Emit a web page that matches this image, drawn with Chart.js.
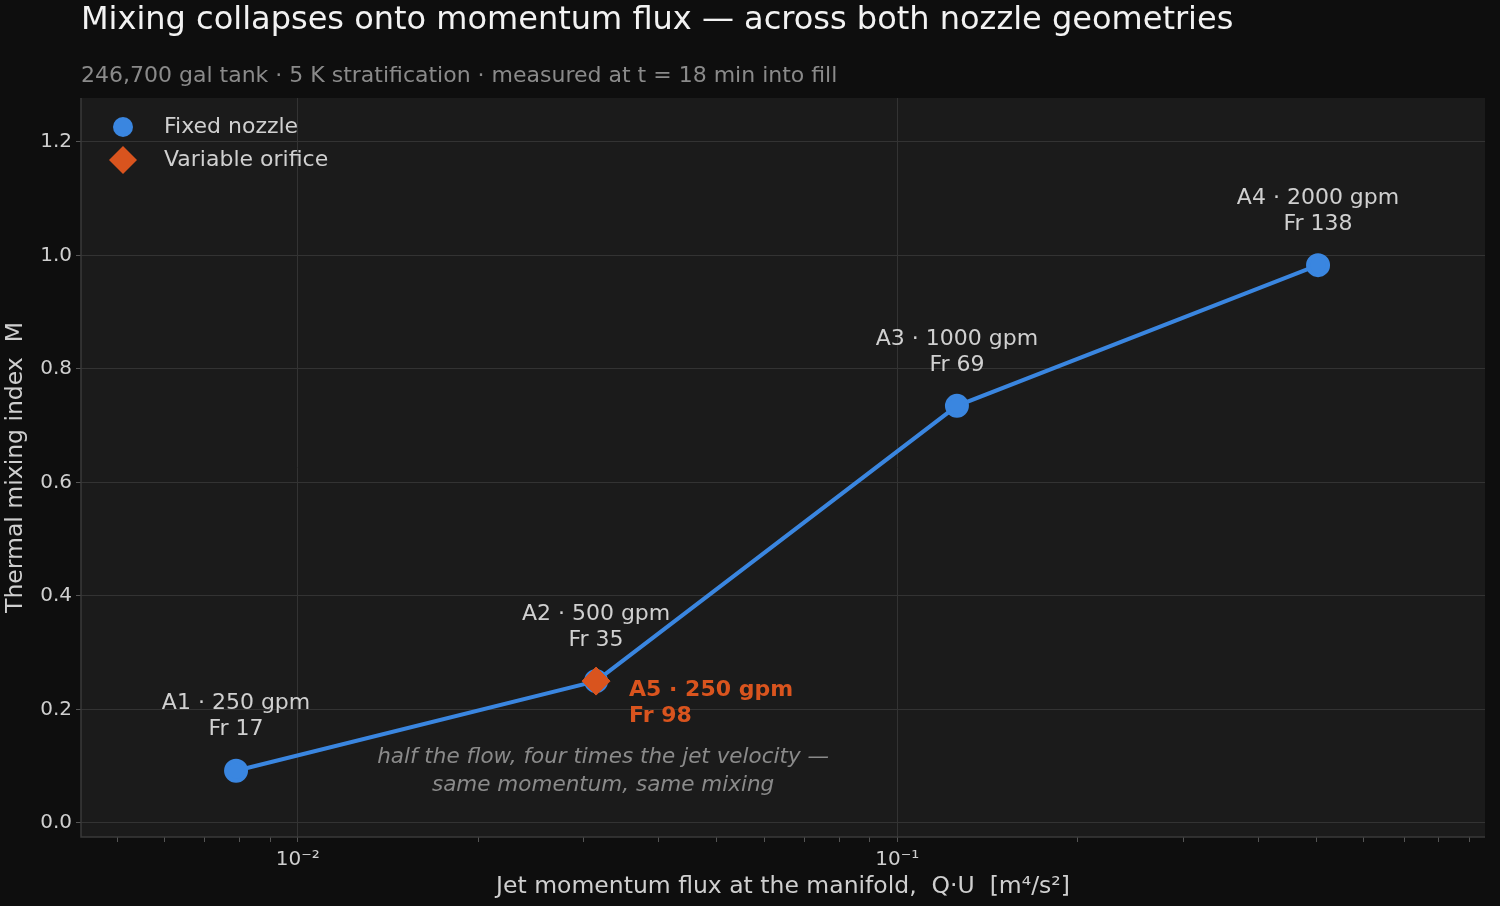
<!DOCTYPE html>
<html><head><meta charset="utf-8">
<script src="https://cdn.jsdelivr.net/npm/chart.js@4"></script>
<style>html,body{margin:0;padding:0;background:#0e0e0e;}#c{display:block;}</style>
</head><body>
<canvas id="c" width="1500" height="906"></canvas>
<script>
const pointNames = ['A1 · 250 gpm','A2 · 500 gpm','A3 · 1000 gpm','A4 · 2000 gpm'];
const froude = ['Fr 17','Fr 35','Fr 69','Fr 138'];
const fixedQU = [0.00789, 0.03144, 0.1257, 0.503];
const fixedM = [0.092, 0.250, 0.735, 0.983];
const varName = ['A5 · 250 gpm'];
const varFr = ['Fr 98'];
const varQU = [0.03144];
const varM = [0.250];
const yTicks = [0,0.2,0.4,0.6,0.8,1.0,1.2];
const FONT = '"DejaVu Sans", sans-serif';
const BLUE = '#3a86e0', ORANGE = '#d9541e';

const deco = {
  id:'deco',
  beforeDraw(ch){
    const c=ch.ctx, a=ch.chartArea;
    c.save();
    c.fillStyle='#0e0e0e'; c.fillRect(0,0,ch.width,ch.height);
    c.fillStyle='#1b1b1b'; c.fillRect(a.left,a.top,a.right-a.left,a.bottom-a.top);
    c.restore();
  },
  afterDatasetsDraw(ch){
    const c=ch.ctx, a=ch.chartArea, xs=ch.scales.x, ys=ch.scales.y;
    c.save();
    c.strokeStyle='#3a3a3a'; c.lineWidth=1.5;
    c.beginPath(); c.moveTo(a.left,a.top); c.lineTo(a.left,a.bottom); c.lineTo(a.right,a.bottom); c.stroke();
    c.textBaseline='middle';
    c.fillStyle='#f2f2f2'; c.font='32px '+FONT; c.textAlign='left';
    c.fillText('Mixing collapses onto momentum flux — across both nozzle geometries',81,21);
    c.fillStyle='#8a8a8a'; c.font='22px '+FONT;
    c.fillText('246,700 gal tank · 5 K stratification · measured at t = 18 min into fill',81,76);
    c.fillStyle='#cfcfcf'; c.font='23.5px '+FONT; c.textAlign='center';
    c.fillText('Jet momentum flux at the manifold,  Q·U  [m⁴/s²]',(a.left+a.right)/2,887);
    c.save(); c.translate(16,(a.top+a.bottom)/2); c.rotate(-Math.PI/2);
    c.fillText('Thermal mixing index  M',0,0); c.restore();
    c.font='22px '+FONT; c.fillStyle='#d0d0d0';
    fixedQU.forEach((q,i)=>{
      const px=xs.getPixelForValue(q), py=ys.getPixelForValue(fixedM[i]);
      c.fillText(pointNames[i],px,py-67);
      c.fillText(froude[i],px,py-41);
    });
    c.font='bold 22px '+FONT; c.fillStyle=ORANGE; c.textAlign='left';
    varQU.forEach((q,i)=>{
      const px=xs.getPixelForValue(q), py=ys.getPixelForValue(varM[i]);
      c.fillText(varName[i],px+33,py+9);
      c.fillText(varFr[i],px+33,py+35);
    });
    c.font='italic 21.5px '+FONT; c.fillStyle='#8a8a8a'; c.textAlign='center';
    const nx=xs.getPixelForValue(0.0323), ny=ys.getPixelForValue(0.116);
    c.fillText('half the flow, four times the jet velocity —',nx,ny);
    c.fillText('same momentum, same mixing',nx,ny+28);
    c.fillStyle=BLUE; c.beginPath(); c.arc(123,127,10,0,Math.PI*2); c.fill();
    c.fillStyle=ORANGE; c.beginPath(); c.moveTo(123,146); c.lineTo(137,160); c.lineTo(123,174); c.lineTo(109,160); c.closePath(); c.fill();
    c.fillStyle='#d0d0d0'; c.font='22px '+FONT; c.textAlign='left';
    c.fillText('Fixed nozzle',164,127); c.fillText('Variable orifice',164,160);
    c.restore();
  }
};

const minorTicks=[];
[0.001,0.01,0.1].forEach(d=>{for(let k=1;k<10;k++){const v=+(d*k).toPrecision(3); if(v>=0.00435&&v<=0.955) minorTicks.push(v);}});

new Chart(document.getElementById('c'),{
  type:'scatter',
  data:{datasets:[
    {label:'Variable orifice',data:varQU.map((q,i)=>({x:q,y:varM[i]})),pointStyle:'rectRot',pointRadius:14,pointHoverRadius:14,backgroundColor:ORANGE,borderColor:ORANGE,showLine:false,order:0},
    {label:'Fixed nozzle',data:fixedQU.map((q,i)=>({x:q,y:fixedM[i]})),showLine:true,borderColor:BLUE,borderWidth:4,backgroundColor:BLUE,pointRadius:10,pointHoverRadius:10,pointBorderColor:BLUE,order:1}
  ]},
  plugins:[deco],
  options:{
    responsive:false,animation:false,
    layout:{padding:{top:98,right:0,left:0,bottom:0}},
    plugins:{legend:{display:false},tooltip:{enabled:false},title:{display:false}},
    scales:{
      x:{type:'logarithmic',min:0.00435,max:0.955,
        afterBuildTicks(s){s.ticks=minorTicks.map(v=>({value:v}));},
        afterFit(s){s.height=69; s.paddingRight=7;},
        grid:{color:ctx=>{const v=ctx.tick&&ctx.tick.value;return (v===0.01||v===0.1)?'#333333':'rgba(0,0,0,0)';},tickColor:'#555',drawTicks:true,tickLength:5},
        border:{display:false},
        ticks:{autoSkip:false,maxRotation:0,color:'#cfcfcf',font:{family:FONT,size:20},padding:6,
          callback:v=>v===0.01?'10⁻²':(v===0.1?'10⁻¹':'')}
      },
      y:{min:-0.0247,max:1.2775,
        afterBuildTicks(s){s.ticks=yTicks.map(v=>({value:v}));},
        afterFit(s){s.width=81;},
        grid:{color:'#333333',tickLength:5,tickColor:'#555'},
        border:{display:false},
        ticks:{color:'#cfcfcf',font:{family:FONT,size:20},padding:4,callback:v=>v.toFixed(1)}
      }
    }
  }
});
</script>
</body></html>
